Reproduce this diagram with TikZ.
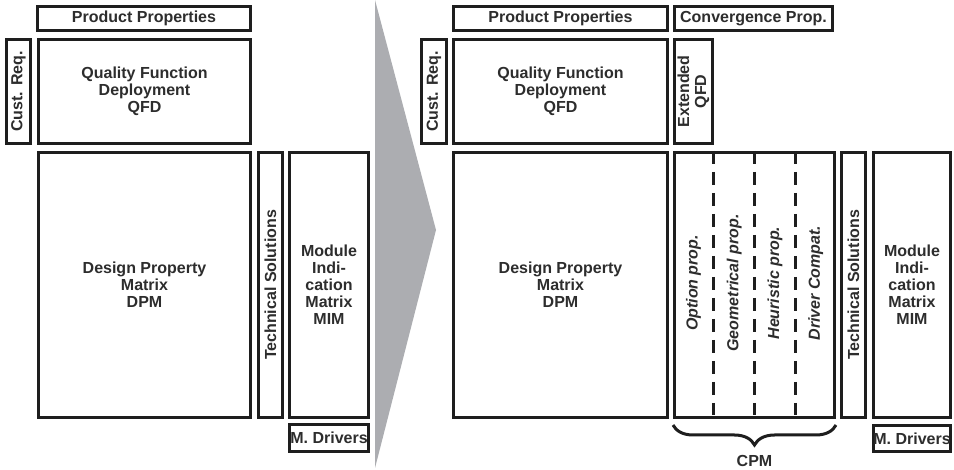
\documentclass[tikz,border=0pt]{standalone}
\usepackage{fontspec}
\setmainfont{Liberation Sans}
\usetikzlibrary{decorations.pathreplacing,calc}
\definecolor{txt}{RGB}{45,45,45}
\definecolor{linec}{RGB}{30,30,30}
\definecolor{arrowgray}{RGB}{172,173,177}
\tikzset{
  box/.style={draw=linec, line width=3pt, inner sep=0pt, align=center, text=txt,
    font=\fontsize{16}{17}\selectfont\bfseries},
  collabel/.style={rotate=90, inner sep=0pt, text=txt,
    font=\fontsize{16}{17}\selectfont\bfseries\itshape},
  dashline/.style={draw=linec, line width=3pt, dash pattern=on 13pt off 8pt},
}
\begin{document}
\begin{tikzpicture}[x=1pt,y=-1pt]
\fill[white] (0,0) rectangle (954,470);
\useasboundingbox (0,0) rectangle (954,470);
% left side
\node[box, minimum width=213, minimum height=24] (pp1) at (144,18.5) {Product Properties};
\node[box, rotate=90, minimum width=104, minimum height=24] (cr1) at (18.5,91.5) {Cust. Req.};
\node[box, minimum width=212, minimum height=104] (qfd1) at (144.5,91.5) {Quality Function\\Deployment\\QFD};
\node[box, minimum width=212, minimum height=265] (dpm1) at (144.5,285) {Design Property\\Matrix\\DPM};
\node[box, rotate=90, minimum width=265, minimum height=24] (ts1) at (270.5,285) {Technical Solutions};
\node[box, minimum width=79, minimum height=265] (mim1) at (329,285) {Module\\Indi-\\cation\\Matrix\\MIM};
\node[box, minimum width=79, minimum height=27] (md1) at (329,438) {M. Drivers};
% arrow
\fill[arrowgray] (375,0) -- (436,230) -- (375,468) -- cycle;
% right side
\node[box, minimum width=214, minimum height=24] (pp2) at (560.5,18.5) {Product Properties};
\node[box, minimum width=158, minimum height=24] (cp2) at (753.5,18.5) {Convergence Prop.};
\node[box, rotate=90, minimum width=104, minimum height=25] (cr2) at (434,91.5) {Cust. Req.};
\node[box, minimum width=214, minimum height=104] (qfd2) at (560.5,91.5) {Quality Function\\Deployment\\QFD};
\node[box, rotate=90, minimum width=104, minimum height=38] (eq2) at (693.5,91.5) {Extended\\QFD};
\node[box, minimum width=214, minimum height=265] (dpm2) at (560.5,285) {Design Property\\Matrix\\DPM};
\node[box, minimum width=160, minimum height=265] (cpm) at (754.5,285) {};
\node[box, rotate=90, minimum width=265, minimum height=24] (ts2) at (853.5,285) {Technical Solutions};
\node[box, minimum width=77, minimum height=265] (mim2) at (912,285) {Module\\Indi-\\cation\\Matrix\\MIM};
\node[box, minimum width=77, minimum height=26] (md2) at (912,438.5) {M. Drivers};
% CPM columns
\foreach \f in {0.25,0.5,0.75}{
  \draw[dashline] ($(cpm.north west)!\f!(cpm.north east)$) -- ($(cpm.south west)!\f!(cpm.south east)+(0,-4)$);
}
\node[collabel] (c1) at ($(cpm.west)!0.125!(cpm.east)+(0,-2)$) {Option prop.};
\node[collabel] (c2) at ($(cpm.west)!0.375!(cpm.east)+(0,-2)$) {Geometrical prop.};
\node[collabel] (c3) at ($(cpm.west)!0.625!(cpm.east)+(0,-2)$) {Heuristic prop.};
\node[collabel] (c4) at ($(cpm.west)!0.875!(cpm.east)+(0,-2)$) {Driver Compat.};
% brace
\draw[draw=linec, line width=3pt, decorate, decoration={brace, mirror, amplitude=20pt}]
  ([yshift=-6pt]cpm.south west) -- ([yshift=-6pt]cpm.south east)
  coordinate[midway] (bm);
\node[text=txt, font=\fontsize{16}{17}\selectfont\bfseries] (cpml) at (754.5,461) {CPM};
\end{tikzpicture}
\end{document}
